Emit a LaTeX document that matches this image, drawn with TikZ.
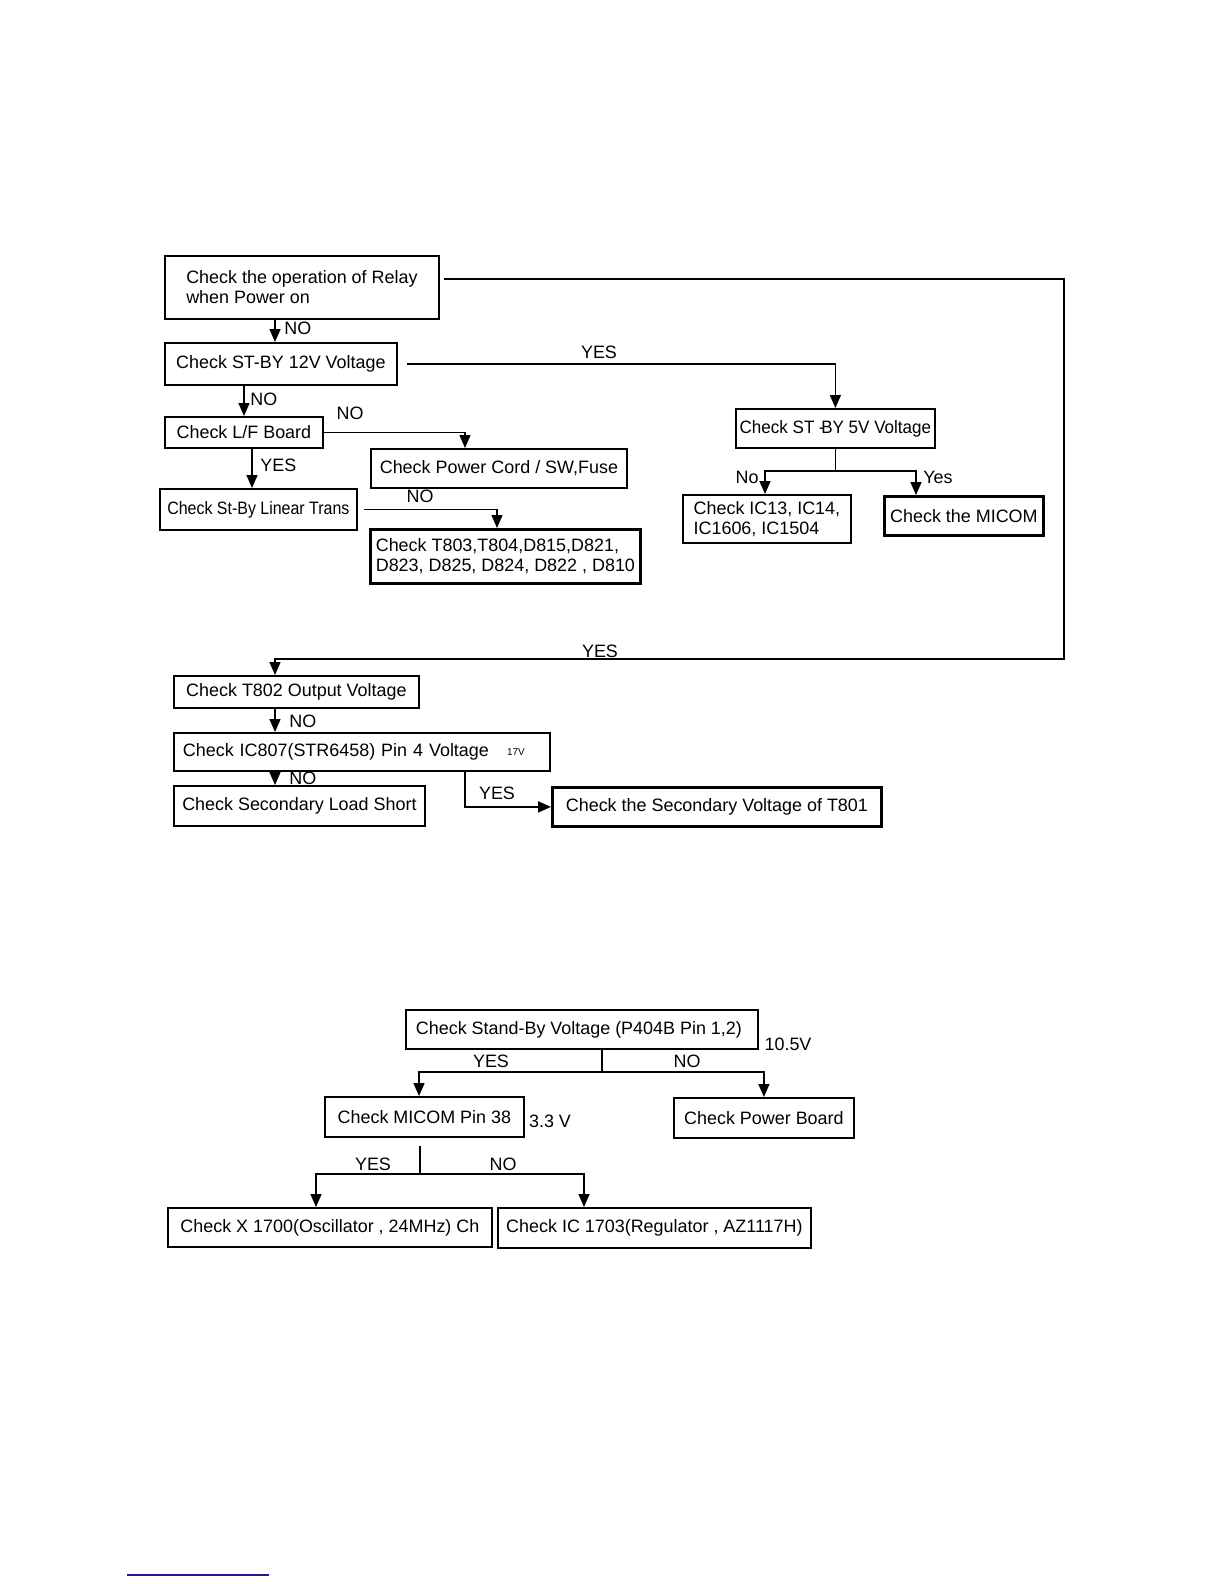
\documentclass[tikz,border=0pt]{standalone}
\usepackage{fontspec}
\setmainfont{Liberation Sans}
\usetikzlibrary{arrows.meta}
\newcommand\boxfont{\fontsize{9}{10}\selectfont}
\newcommand\narrowfont[1]{\fontsize{9}{10}\selectfont\addfontfeature{FakeStretch=#1}}
\definecolor{linkblue}{RGB}{28,28,140}
\tikzset{
  >={Triangle[length=6.5bp,width=5.5bp]},
  box/.style={
    draw, rectangle, align=left, anchor=north west, inner xsep=2bp,
    inner ysep=0pt, line width=0.9bp, font=\boxfont
  },
  boldbox/.style={box, line width=1.4bp},
  tag/.style={inner sep=0pt, font=\boxfont},
  link/.style={->, line width=0.75bp},
}

\begin{document}
\begin{tikzpicture}[x=0.5bp, y=-0.5bp]
  \fill[white] (0,0) rectangle (1224,1584);
  \useasboundingbox (0,0) rectangle (1224,1584);

  % power supply chart
  \node[box, minimum width=137bp, minimum height=31.5bp] (relay) at (164,255) {Check the operation of Relay\\when Power on};
  \node[box, minimum width=116bp, minimum height=21bp] (sb12) at (164,342) {Check ST-BY 12V Voltage};
  \node[box, minimum width=79bp, minimum height=15.5bp] (lf) at (164,416) {Check L/F Board};
  \node[box, minimum width=128bp, minimum height=19.5bp] (cord) at (370,448) {Check Power Cord / SW,Fuse};
  \node[box, minimum width=98.5bp, minimum height=20.5bp, font=\narrowfont{0.89}] (lin) at (159,488) {Check St-By Linear Trans};
  \node[boldbox, minimum width=135bp, minimum height=27bp] (diodes) at (369,528) {Check T803,T804,D815,D821,\\D823, D825, D824, D822 , D810};
  \node[box, minimum width=99.5bp, minimum height=19.5bp, inner xsep=1bp, font=\narrowfont{0.95}] (sb5) at (735,408) {Check ST -\kern-.2em BY 5V Voltage};
  \node[box, minimum width=84bp, minimum height=24bp] (ics) at (682,494) {Check IC13, IC14,\\IC1606, IC1504};
  \node[boldbox, minimum width=79.5bp, minimum height=19.5bp] (micom) at (883,495) {Check the MICOM};
  \node[box, minimum width=122.5bp, minimum height=16bp] (t802) at (173,675) {Check T802 Output Voltage};
  \node[box, text width=179bp, inner xsep=4.5bp, minimum height=19bp] (ic807) at (173,732) {Check IC807(STR6458) Pin 4 Voltage};
  \node[tag, font=\fontsize{5}{6}\selectfont] (v17) at (516,752) {17V};
  \node[box, minimum width=125.5bp, minimum height=20bp] (load) at (173,785) {Check Secondary Load Short};
  \node[boldbox, minimum width=164.5bp, minimum height=19.5bp] (t801) at (551,786) {Check the Secondary Voltage of T801};

  \draw[link] (relay.south -| 275,0) -- (sb12.north -| 275,0);
  \node[tag, anchor=west] (no1) at (284,328) {NO};
  \draw[link] (sb12.south -| 244,0) -- (lf.north -| 244,0);
  \node[tag, anchor=west] (no2) at (250,399) {NO};
  \draw[link] (lf.east) -| (cord.north -| 465,0);
  \node[tag] (no3) at (350,413) {NO};
  \draw[link] (lf.south -| 252,0) -- (lin.north -| 252,0);
  \node[tag, anchor=west] (yes1) at (260,465) {YES};
  \draw[link] ([xshift=3bp]lin.east) -| (diodes.north -| 497,0);
  \node[tag] (no4) at (420,496) {NO};
  \draw[link] ([xshift=4.5bp]sb12.east) -| (sb5.north);
  \node[tag] (yes2) at (599,352) {YES};
  \coordinate (split5) at (sb5.south |- 0,471);
  \draw[line width=0.75bp] (sb5.south) -- (split5);
  \draw[link] (split5) -| (ics.north -| 765,0);
  \draw[link] (split5) -| (micom.north -| 916,0);
  \node[tag, anchor=east] (no5) at (759,477) {No};
  \node[tag, anchor=west] (yes3) at (923,477) {Yes};

  \coordinate (loopa) at (1064,279);
  \coordinate (loopb) at (1064,659);
  \draw[link] ([xshift=2bp]relay.east |- loopa) -- (loopa) -- (loopb) -| (t802.north -| 275,0);
  \node[tag] (yes4) at (600,651) {YES};
  \draw[link] (t802.south -| 275,0) -- (ic807.north -| 275,0);
  \node[tag, anchor=west] (no6) at (289,721) {NO};
  \draw[link] (ic807.south -| 275,0) -- (load.north -| 275,0);
  \node[tag, anchor=west] (no7) at (289,778) {NO};
  \draw[link, line width=1bp] (ic807.south -| 465,0) |- (t801.west);
  \node[tag] (yes5) at (497,793) {YES};

  % stand-by chart
  \node[box, minimum width=176bp, minimum height=19.5bp] (stby) at (405,1009) {Check Stand-By Voltage (P404B Pin 1,2)\hspace*{3bp}};
  \node[tag] (v105) at (788,1044) {10.5V};
  \node[box, minimum width=99.5bp, minimum height=20bp] (mpin) at (324,1096) {Check MICOM Pin 38};
  \node[tag] (v33) at (550,1121) {3.3 V};
  \node[box, minimum width=90bp, minimum height=20bp] (pboard) at (673,1097) {Check Power Board};
  \node[box, minimum width=162bp, minimum height=19.5bp] (osc) at (167,1207) {Check X 1700(Oscillator , 24MHz) Ch};
  \node[box, minimum width=156.5bp, minimum height=20bp] (reg) at (497,1207) {Check IC 1703(Regulator , AZ1117H)};

  \coordinate (splitsb) at (602,1072);
  \draw[line width=0.75bp] (stby.south -| splitsb) -- (splitsb);
  \draw[link] (splitsb) -| (mpin.north -| 419,0);
  \draw[link] (splitsb) -| (pboard.north);
  \node[tag] (yes6) at (491,1061) {YES};
  \node[tag] (no8) at (687,1061) {NO};
  \coordinate (splitm) at (420,1174);
  \draw[line width=0.75bp] ([yshift=-4bp]mpin.south -| splitm) -- (splitm);
  \draw[link] (splitm) -| (osc.north -| 316,0);
  \draw[link] (splitm) -| (reg.north -| 584,0);
  \node[tag] (yes7) at (373,1164) {YES};
  \node[tag] (no9) at (503,1164) {NO};

  \draw[linkblue, line width=0.8bp] (127,1575) -- (269,1575);
\end{tikzpicture}
\end{document}
